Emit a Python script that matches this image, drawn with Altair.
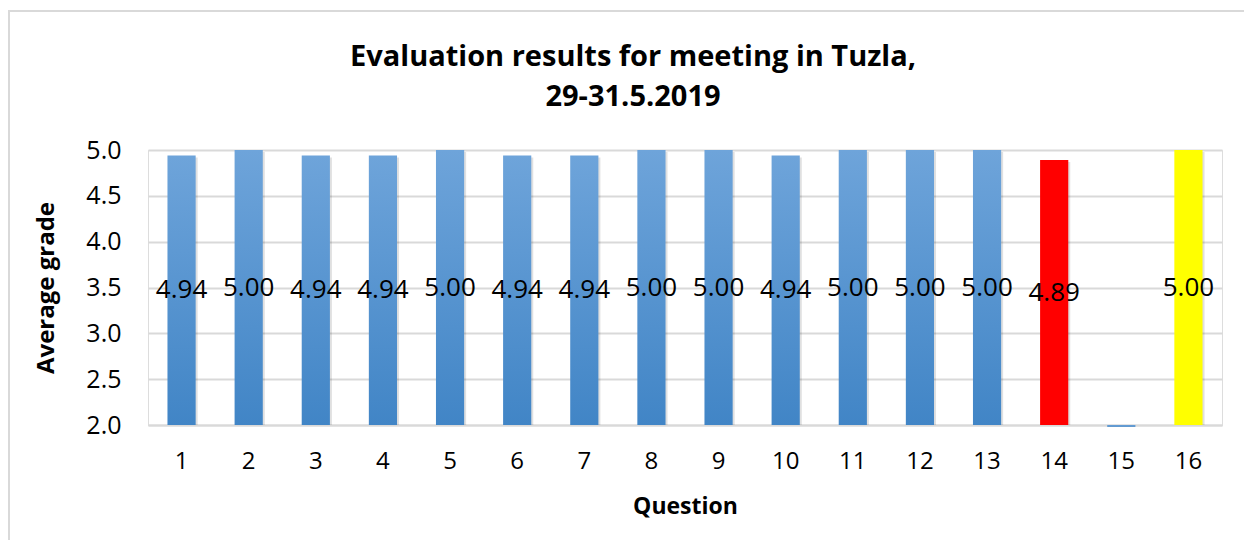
import altair as alt
import pandas as pd

questions = [str(i) for i in range(1, 17)]
grades = [4.94, 5.00, 4.94, 4.94, 5.00, 4.94, 4.94, 5.00, 5.00, 4.94, 5.00, 5.00, 5.00, 4.89, 1.98, 5.00]
labels = ["4.94", "5.00", "4.94", "4.94", "5.00", "4.94", "4.94", "5.00", "5.00", "4.94", "5.00", "5.00", "5.00", "4.89", "", "5.00"]
groups = ["blue"] * 13 + ["red", "blue", "yellow"]

df = pd.DataFrame({"q": questions, "v": grades, "lab": labels, "g": groups, "base": [2.0] * 16})
df["mid"] = (df["v"] + df["base"]) / 2

FONT = "Open Sans"

x = alt.X("q:N", sort=questions, title="Question",
          scale=alt.Scale(paddingInner=0.58, paddingOuter=0.29),
          axis=alt.Axis(labelAngle=0, labelFontSize=24, labelPadding=24, ticks=False,
                        domain=True, domainColor="#d9d9d9", domainWidth=2,
                        titleFontSize=23, titleFontWeight="bold", titlePadding=22,
                        labelColor="black", titleColor="black", labelFont=FONT, titleFont=FONT))
y = alt.Y("v:Q", title="Average grade",
          scale=alt.Scale(domain=[2, 5], nice=False, zero=False),
          axis=alt.Axis(values=[2, 2.5, 3, 3.5, 4, 4.5, 5], format=".1f", labelFontSize=25,
                        ticks=False, domain=False, labelPadding=27, gridColor="#d9d9d9",
                        gridWidth=2, titleFontSize=24, titleFontWeight="bold", titlePadding=27,
                        labelColor="black", titleColor="black", labelFont=FONT, titleFont=FONT))

base = alt.Chart(df)

blue_grad = alt.Gradient(gradient="linear", x1=0, x2=0, y1=0, y2=1,
                         stops=[alt.GradientStop(color="#6ea4da", offset=0),
                                alt.GradientStop(color="#4185c6", offset=1)])

frame = alt.Chart(alt.Data(values=[{"a": 1}])).mark_rect(
    fill="transparent", stroke="#d9d9d9", strokeWidth=2).encode(
    x=alt.value(-139), x2=alt.value(1200), y=alt.value(-139), y2=alt.value(500))

shadow = base.mark_bar(color="#000000", opacity=0.12, xOffset=2, yOffset=2).encode(
    x=x, y=y, y2="base:Q").transform_filter("datum.v > 2")
blue = base.mark_bar(color=blue_grad).encode(x=x, y=y, y2="base:Q").transform_filter("datum.g == 'blue'")
red = base.mark_bar(color="#ff0000").encode(x=x, y=y, y2="base:Q").transform_filter("datum.g == 'red'")
yellow = base.mark_bar(color="#ffff00").encode(x=x, y=y, y2="base:Q").transform_filter("datum.g == 'yellow'")
text = base.mark_text(fontSize=26, font=FONT, color="black", baseline="middle", align="center").encode(
    x=x, y=alt.Y("mid:Q"), text="lab:N")

chart = alt.layer(frame, shadow, blue, red, yellow, text).properties(
    width=1074, height=275,
    title=alt.TitleParams(["Evaluation results for meeting in Tuzla,", "29-31.5.2019"],
                          fontSize=29, fontWeight="bold", font=FONT, color="black",
                          lineHeight=40, anchor="middle", dx=-52, offset=-102),
    autosize=alt.AutoSizeParams(type="none"),
    padding={"left": 140, "top": 142, "right": 22, "bottom": 115},
).configure_view(stroke=None).configure(background="white")

chart.save("out.html", embed_options={"renderer": "svg", "actions": False})
